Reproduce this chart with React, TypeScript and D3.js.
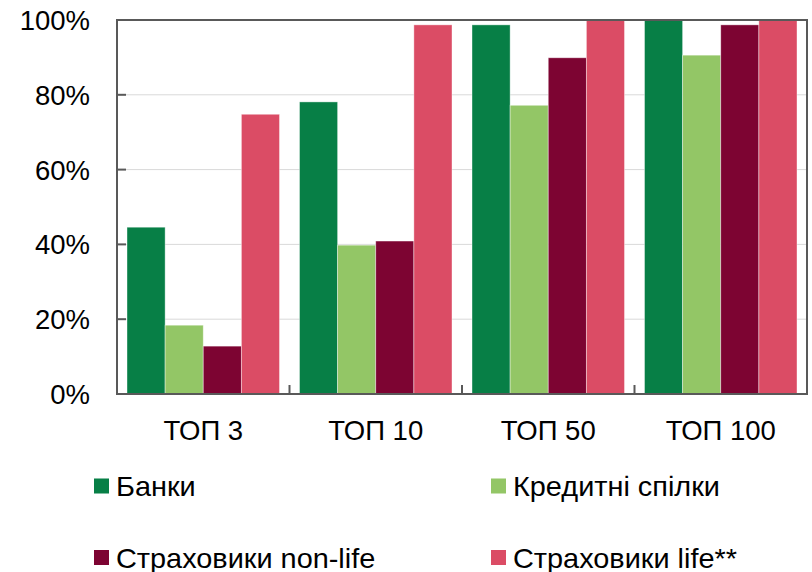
import React from "react";
import * as d3 from "d3";

const categories = ["ТОП 3", "ТОП 10", "ТОП 50", "ТОП 100"];
const seriesNames = ["Банки", "Кредитні спілки", "Страховики non-life", "Страховики life**"];
const banks = [44.6, 78.1, 98.7, 100];
const creditUnions = [18.4, 39.8, 77.2, 90.6];
const nonLife = [12.8, 40.9, 89.9, 98.7];
const life = [74.8, 98.7, 100, 100];
const yTicks = [0, 20, 40, 60, 80, 100];
const colors = ["#077F46", "#93C666", "#7D0432", "#DB4C65"];

const W = 812, H = 572;
const left = 117, right = 807, top = 20, bottom = 394;

export default function App() {
  const series = [banks, creditUnions, nonLife, life];
  const x = d3.scaleBand<string>().domain(categories).range([left, right]).paddingInner(0).paddingOuter(0);
  const inner = d3.scaleBand<number>().domain([0, 1, 2, 3]).range([10, x.bandwidth() - 10]).padding(0);
  const y = d3.scaleLinear().domain([0, 100]).range([bottom, top]);
  const font = "'Liberation Sans', Arial, sans-serif";
  const legendPos = [
    { x: 94, y: 478.5 },
    { x: 491, y: 478.5 },
    { x: 94, y: 550 },
    { x: 491, y: 550 },
  ];
  return (
    <svg width={W} height={H} style={{ position: "absolute", left: 0, top: 0 }} fontFamily={font}>
      <rect width={W} height={H} fill="#fff" />
      {yTicks.filter((t) => t > 0 && t < 100).map((t) => (
        <line key={t} x1={left} x2={right} y1={y(t)} y2={y(t)} stroke="#D9D9D9" strokeWidth={1} />
      ))}
      {categories.map((c, ci) =>
        series.map((s, si) => (
          <rect
            key={c + si}
            x={(x(c) as number) + (inner(si) as number)}
            y={y(s[ci])}
            width={inner.bandwidth()}
            height={bottom - y(s[ci])}
            fill={colors[si]}
            stroke="#ffffff"
            strokeOpacity={0.5}
            strokeWidth={0.8}
          />
        ))
      )}
      <rect x={left} y={top} width={right - left} height={bottom - top} fill="none" stroke="#595959" strokeWidth={2} />
      {yTicks.map((t) => (
        <g key={t}>
          <line x1={left} x2={left + 9} y1={y(t)} y2={y(t)} stroke="#595959" strokeWidth={2} />
          <text x={90} y={y(t)} dy="0.36em" textAnchor="end" fontSize={27.5} fill="#000">{t}%</text>
        </g>
      ))}
      {categories.slice(1).map((c) => (
        <line key={c} x1={x(c) as number} x2={x(c) as number} y1={bottom} y2={bottom - 9} stroke="#595959" strokeWidth={2} />
      ))}
      {categories.map((c) => (
        <text key={c} x={(x(c) as number) + x.bandwidth() / 2} y={440} textAnchor="middle" fontSize={27.5} fill="#000">{c}</text>
      ))}
      {seriesNames.map((n, i) => (
        <g key={n}>
          <rect x={legendPos[i].x} y={legendPos[i].y} width={15} height={15} fill={colors[i]} />
          <text
            transform={`translate(${legendPos[i].x + 22},${legendPos[i].y + 17.5}) scale(1.05,1)`}
            fontSize={27.5}
            fill="#000"
          >
            {n}
          </text>
        </g>
      ))}
    </svg>
  );
}
